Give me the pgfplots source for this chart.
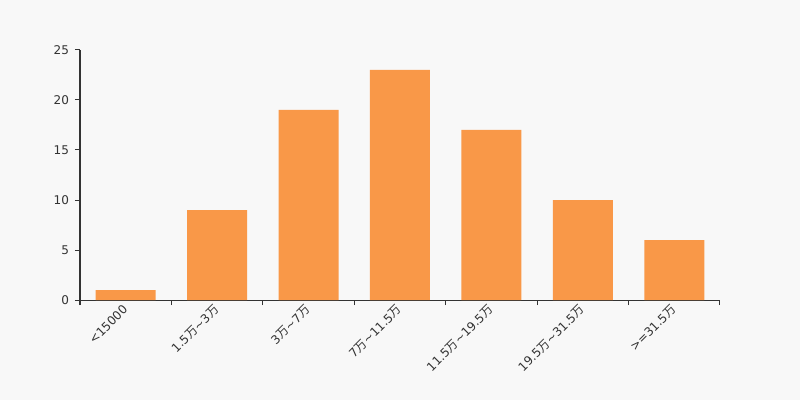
\documentclass[border=0pt]{standalone}
\usepackage{pgfplots}
\pgfplotsset{compat=1.18}
\usepackage{fontspec}
\setmainfont{DejaVu Sans}
\newfontfamily\cjk{Noto Sans CJK SC}
\newcommand{\wan}{{\cjk 万}}
\definecolor{bg}{RGB}{248,248,248}
\definecolor{barc}{RGB}{249,152,72}
\definecolor{txt}{RGB}{51,51,51}
\begin{document}
\begin{tikzpicture}
\fill[bg] (-60pt,-75pt) rectangle (540pt,225pt);
\begin{axis}[
  at={(0,0)}, anchor=south west,
  scale only axis, width=480pt, height=187.5pt,
  xmin=-0.5, xmax=6.5, ymin=0, ymax=25,
  axis x line*=bottom, axis y line*=left,
  axis line style={txt, line width=0.75pt, -},
  ytick={0,5,...,25},
  xtick={0,...,6},
  xticklabels={<15000,1.5\wan\textasciitilde3\wan,3\wan\textasciitilde7\wan,7\wan\textasciitilde11.5\wan,11.5\wan\textasciitilde19.5\wan,19.5\wan\textasciitilde31.5\wan,>=31.5\wan},
  minor xtick={-0.5,0.5,...,6.5},
  major x tick style={draw=none},
  minor x tick style={txt, line width=0.75pt},
  y tick style={txt, line width=0.75pt},
  tick align=outside,
  major tick length=3.75pt, minor tick length=3.75pt,
  tick label style={font=\fontsize{9}{10}\selectfont, text=txt},
  /pgf/number format/assume math mode=true,
  x tick label style={rotate=45, anchor=east, xshift=2pt, yshift=-1pt},
  yticklabel style={xshift=-1pt},
  clip=false,
]
\addplot[ybar, bar width=45pt, fill=barc, draw=none] coordinates {
(0,1) (1,9) (2,19) (3,23) (4,17) (5,10) (6,6)};
\end{axis}
\end{tikzpicture}
\end{document}
